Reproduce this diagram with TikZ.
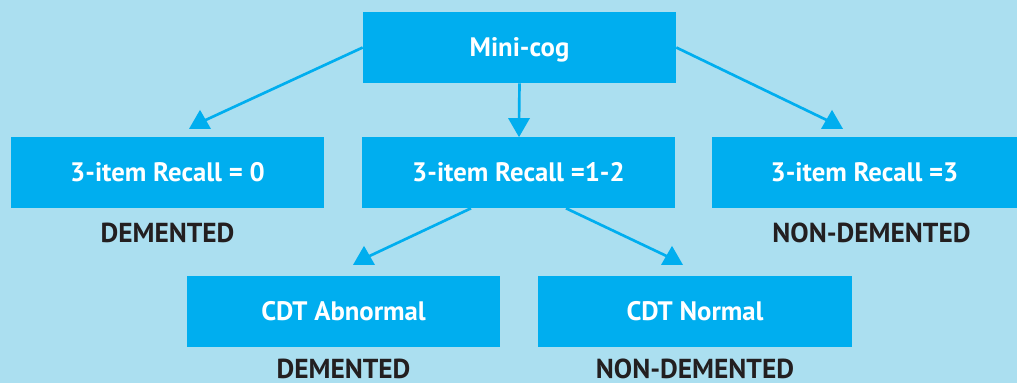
\documentclass[tikz,border=0pt]{standalone}
\usepackage{fontspec}
\setsansfont{PT Sans}
\usepackage{tikz}
\usetikzlibrary{shapes.geometric}
\usepackage{xcolor}
\definecolor{BgColor}{HTML}{ABDFF0}
\definecolor{BoxColor}{HTML}{00AEEF}
\definecolor{InkColor}{HTML}{231F20}
\newcommand{\XLeft}{167.5}
\newcommand{\XMid}{518.5}
\newcommand{\XRight}{864.5}
\newcommand{\XLow}{343.5}
\newcommand{\XNorm}{695}
\newcommand{\YTop}{47.5}
\newcommand{\YMid}{172.5}
\newcommand{\YLow}{311.5}
\newcommand{\YTagMid}{233}
\newcommand{\YTagLow}{369}

\begin{document}
\begin{tikzpicture}[
  x=0.025cm, y=-0.025cm,
  box/.style={fill=BoxColor,minimum width=7.825cm,minimum height=1.775cm,inner sep=0pt,
    text=white,font=\sffamily\bfseries\fontsize{19}{21}\selectfont,text height=13.3pt,text depth=0pt},
  tag/.style={text=InkColor,font=\sffamily\bfseries\fontsize{19.5}{21}\selectfont,inner sep=0pt},
  tip/.style={regular polygon,regular polygon sides=3,fill=BoxColor,minimum size=0.635cm,inner sep=0pt},
  link/.style={draw=BoxColor,line width=1.9pt}
]

% Background
\useasboundingbox (0,0) rectangle (1017,383);
\fill[BgColor] (0,0) rectangle (1017,383);

% Boxes
\node[box] (minicog) at (519.5,\YTop) {Mini-cog};
\node[box] (recallzero) at (\XLeft,\YMid) {3-item Recall = 0};
\node[box] (recallmid) at (\XMid,\YMid) {3-item Recall =1-2};
\node[box,minimum width=7.625cm] (recallthree) at (\XRight,\YMid) {3-item Recall =3};
\node[box] (cdtabn) at (\XLow,\YLow) {CDT Abnormal};
\node[box] (cdtnorm) at (\XNorm,\YLow) {CDT Normal};

% Outcome labels
\node[tag] (tagzero) at (\XLeft,\YTagMid) {DEMENTED};
\node[tag] (tagthree) at (871.5,\YTagMid) {NON-DEMENTED};
\node[tag] (tagabn) at (\XLow,\YTagLow) {DEMENTED};
\node[tag] (tagnorm) at (\XNorm,\YTagLow) {NON-DEMENTED};

% Triangle heads
\node[tip] (tipzero) at (200,122.6) {};
\node[tip,shape border rotate=180] (tipmid) at (519,124.4) {};
\node[tip] (tipthree) at (832,122.6) {};
\node[tip] (tipabn) at (364,258.6) {};
\node[tip] (tipnorm) at (672,258.6) {};

% Connectors
\draw[link] (minicog.west) -- (tipzero.center);
\draw[link] (minicog.south) -- (tipmid.center);
\draw[link] (minicog.east) -- (tipthree.center);
\draw[link] (recallmid.217) -- (tipabn.center);
\draw[link] (recallmid.323) -- (tipnorm.center);

\end{tikzpicture}
\end{document}
